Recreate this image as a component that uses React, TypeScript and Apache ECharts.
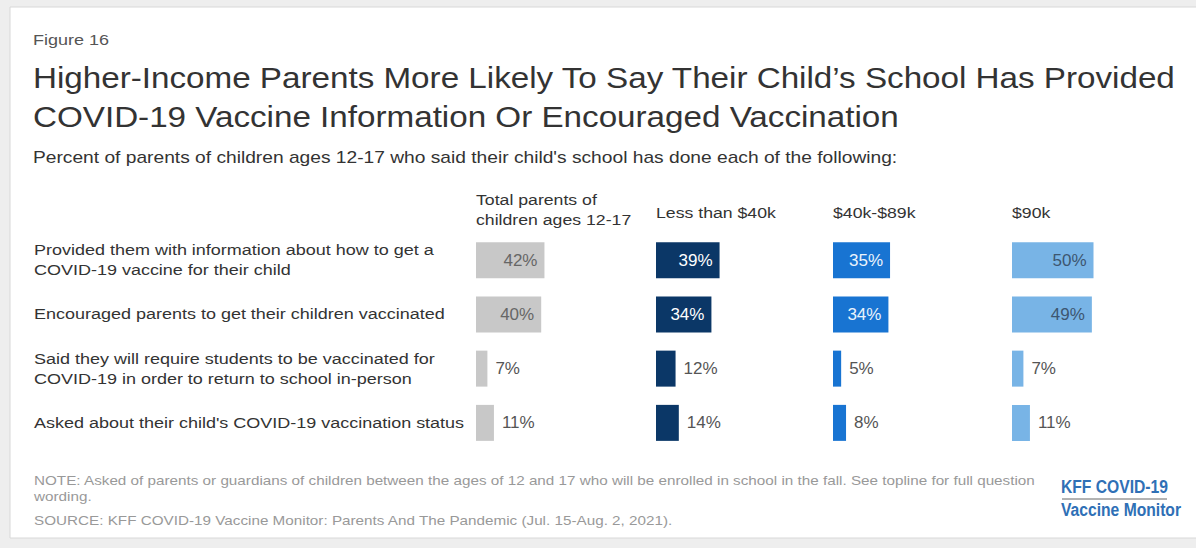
import React, { useEffect, useRef } from "react";
import * as echarts from "echarts";

const categories = [
  "Provided them with information about how to get a\nCOVID-19 vaccine for their child",
  "Encouraged parents to get their children vaccinated",
  "Said they will require students to be vaccinated for\nCOVID-19 in order to return to school in-person",
  "Asked about their child's COVID-19 vaccination status",
];
const groupNames = [
  "Total parents of\nchildren ages 12-17",
  "Less than $40k",
  "$40k-$89k",
  "$90k",
];
const totalValues = [42, 40, 7, 11];
const under40kValues = [39, 34, 12, 14];
const mid40to89kValues = [35, 34, 5, 8];
const over90kValues = [50, 49, 7, 11];

const titleLines = [
  "Higher-Income Parents More Likely To Say Their Child\u2019s School Has Provided",
  "COVID-19 Vaccine Information Or Encouraged Vaccination",
];
const subtitleText =
  "Percent of parents of children ages 12-17 who said their child's school has done each of the following:";
const noteLines = [
  "NOTE: Asked of parents or guardians of children between the ages of 12 and 17 who will be enrolled in school in the fall. See topline for full question",
  "wording.",
];
const sourceText =
  "SOURCE: KFF COVID-19 Vaccine Monitor: Parents And The Pandemic (Jul. 15-Aug. 2, 2021).";
const logoLines = ["KFF COVID-19", "Vaccine Monitor"];

const FONT = "'Liberation Sans', Arial, Helvetica, sans-serif";

function txt(
  text: string,
  x: number,
  y: number,
  fontSize: number,
  color: string,
  sx: number,
  extra: any = {}
) {
  return {
    type: "text",
    x,
    y,
    scaleX: sx,
    z: 10,
    style: {
      text,
      x: 0,
      y: 0,
      fill: color,
      font: `${extra.fontWeight || "normal"} ${fontSize}px ${extra.fontFamily || FONT}`,
      align: "left",
      verticalAlign: "middle",
      lineHeight: extra.lineHeight || Math.round(fontSize * 1.3),
    },
  };
}

export default function App() {
  const ref = useRef<HTMLDivElement>(null);
  useEffect(() => {
    if (!ref.current) return;
    const chart = echarts.init(ref.current, undefined, { renderer: "svg" });
    const lefts = [476, 656, 833, 1012];
    const barColors = ["#c8c8c8", "#0b3767", "#1874d2", "#78b4e6"];
    const insideLabelColors = ["#666666", "#ffffff", "#eaf3fc", "#3d5670"];
    const seriesValues = [totalValues, under40kValues, mid40to89kValues, over90kValues];

    const option: any = {
      animation: false,
      backgroundColor: "#eeeeee",
      grid: lefts.map((l) => ({ left: l, top: 233, width: 163, height: 217 })),
      xAxis: lefts.map((_, i) => ({
        type: "value",
        gridIndex: i,
        min: 0,
        max: 100,
        show: false,
      })),
      yAxis: lefts.map((_, i) => ({
        type: "category",
        gridIndex: i,
        data: categories,
        inverse: true,
        axisLine: { show: false },
        axisTick: { show: false },
        splitLine: { show: false },
        axisLabel: { show: false },
      })),
      series: seriesValues.map((vals, i) => ({
        type: "bar",
        name: groupNames[i].replace("\n", " "),
        xAxisIndex: i,
        yAxisIndex: i,
        barWidth: 36,
        itemStyle: { color: barColors[i] },
        data: vals.map((v) => ({
          value: v,
          label:
            v >= 30
              ? { position: "insideRight", distance: 7, color: insideLabelColors[i] }
              : { position: "right", distance: 8, color: "#555" },
        })),
        label: {
          show: true,
          formatter: "{c}%",
          fontFamily: FONT,
          fontSize: 17,
        },
      })),
    };
    chart.setOption(option);

    // category labels positioned from the category axis
    const catLabels = categories.map((c, i) => {
      const p = chart.convertToPixel({ gridIndex: 0 } as any, [0, i]) as number[];
      return txt(c, 34, p[1], 15, "#333", 1.2, { lineHeight: 20 });
    });

    const headerEls = groupNames.map((name, i) =>
      txt(name, lefts[i], name.includes("\n") ? 210 : 213, 14.5, "#333", 1.22, { lineHeight: 20 })
    );

    const graphic: any[] = [
      {
        type: "rect",
        z: -1,
        shape: { x: 10, y: 7, width: 1190, height: 531 },
        style: { fill: "#ffffff", stroke: "#d8d8d8", lineWidth: 1 },
      },
      {
        type: "line",
        z: 10,
        shape: { x1: 1062, y1: 499, x2: 1167, y2: 499 },
        style: { stroke: "#666666", lineWidth: 1 },
      },
      txt("Figure 16", 33, 40, 15, "#555", 1.2),
      txt(titleLines[0], 33, 78, 30, "#333", 1.107),
      txt(titleLines[1], 33, 117, 30, "#333", 1.107),
      txt(subtitleText, 33, 158, 16, "#333", 1.2),
      ...headerEls,
      ...catLabels,
      txt(noteLines[0], 34, 481, 12.5, "#999", 1.22),
      txt(noteLines[1], 34, 497, 12.5, "#999", 1.22),
      txt(sourceText, 34, 521, 12.5, "#999", 1.22),
      txt(logoLines[0], 1061, 487, 18, "#2f70b6", 0.87, { fontWeight: "bold" }),
      txt(logoLines[1], 1061, 510, 18, "#2f70b6", 0.87, { fontWeight: "bold" }),
    ];
    chart.setOption({ graphic });
    return () => chart.dispose();
  }, []);
  return (
    <div
      ref={ref}
      style={{ position: "absolute", left: 0, top: 0, width: 1196, height: 548 }}
    />
  );
}
